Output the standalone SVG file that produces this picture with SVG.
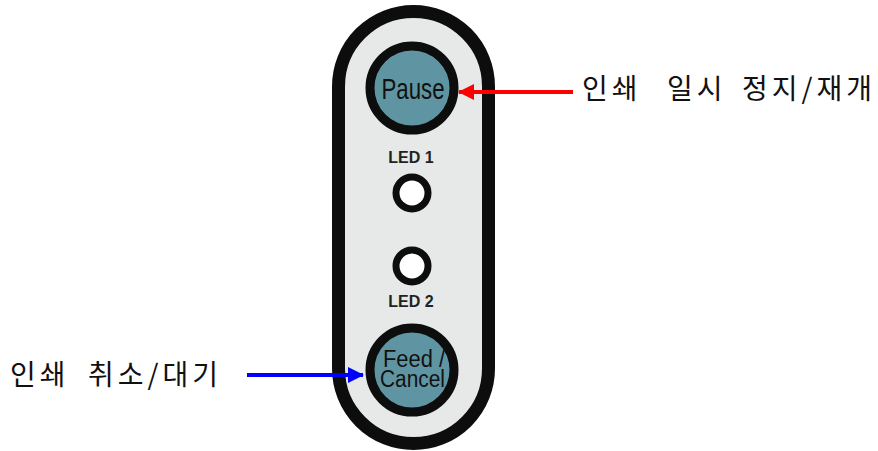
<svg xmlns="http://www.w3.org/2000/svg" width="878" height="451" viewBox="0 0 878 451">
<style>
.panel{fill:#e7e8e8;stroke:#0d0d0d;stroke-width:13}
.btn{fill:#5f95a2;stroke:#0d0d0d;stroke-width:9}
.led{fill:#ffffff;stroke:#0d0d0d;stroke-width:7}
.btxt{font-family:"Liberation Sans",Arial,sans-serif;fill:#111;text-anchor:middle}
.ledtxt{font-family:"Liberation Sans",Arial,sans-serif;font-weight:bold;font-size:16px;fill:#222;text-anchor:middle}
.ko{font-family:"Noto Sans CJK KR","Noto Sans",sans-serif;font-size:28px;letter-spacing:4px;fill:#111}
</style>
<defs>
<marker id="ahRed" markerUnits="userSpaceOnUse" markerWidth="16" markerHeight="16" refX="15" refY="8" orient="auto">
<polygon points="0,0 16,8 0,16" fill="#ff0000"/>
</marker>
<marker id="ahBlue" markerUnits="userSpaceOnUse" markerWidth="16" markerHeight="16" refX="15" refY="8" orient="auto">
<polygon points="0,0 16,8 0,16" fill="#0000ff"/>
</marker>
</defs>
<g id="panel">
<rect class="panel" x="338.5" y="11.5" width="150" height="432" rx="75" ry="75"/>
</g>
<g id="pause">
<circle class="btn" cx="412" cy="88" r="42"/>
<text class="btxt" x="413" y="99" font-size="29" textLength="63" lengthAdjust="spacingAndGlyphs">Pause</text>
</g>
<g id="led1">
<text class="ledtxt" x="411" y="163">LED 1</text>
<circle class="led" cx="412" cy="193" r="16"/>
</g>
<g id="led2">
<circle class="led" cx="412" cy="266" r="16"/>
<text class="ledtxt" x="411" y="307">LED 2</text>
</g>
<g id="feed">
<circle class="btn" cx="412" cy="370" r="42"/>
<text class="btxt" x="414" y="367" font-size="23" textLength="62" lengthAdjust="spacingAndGlyphs">Feed /</text>
<text class="btxt" x="412.5" y="387" font-size="23" textLength="65" lengthAdjust="spacingAndGlyphs">Cancel</text>
</g>
<g id="connectors">
<line x1="573" y1="92" x2="459" y2="92" stroke="#ff0000" stroke-width="4" marker-end="url(#ahRed)"/>
<line x1="247" y1="375" x2="363" y2="375" stroke="#0000ff" stroke-width="4" marker-end="url(#ahBlue)"/>
</g>
<g id="label-pause">
<text class="ko" y="99"><tspan x="582">인쇄</tspan> <tspan x="667">일시</tspan> <tspan x="742">정지/재개</tspan></text>
</g>
<g id="label-feed">
<text class="ko" y="385"><tspan x="10">인쇄</tspan> <tspan x="88">취소/대기</tspan></text>
</g>
</svg>
